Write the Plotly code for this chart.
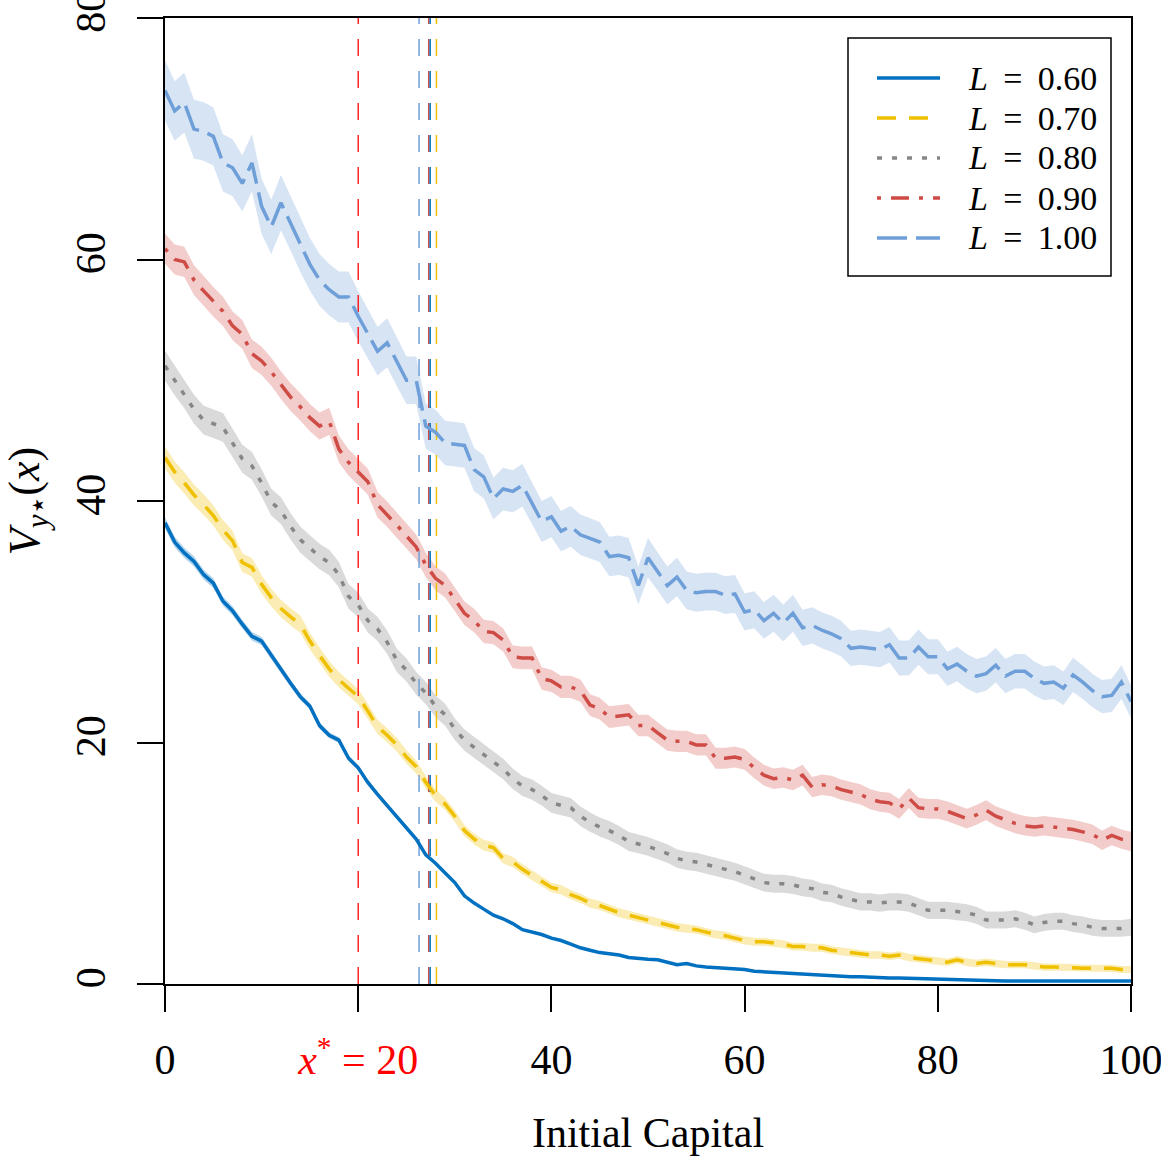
import plotly.graph_objects as go

# ---------------- data ----------------
x_capital = list(range(101))

L_labels = ["0.60", "0.70", "0.80", "0.90", "1.00"]

v_060 = [38.2, 36.6, 35.7, 35.0, 33.9, 33.2, 31.7, 30.9, 29.8, 28.8,
         28.4, 27.2, 26.0, 24.9, 23.8, 23.0, 21.4, 20.6, 20.2, 18.7,
         17.9, 16.7, 15.7, 14.8, 13.8, 12.9, 12.0, 10.7, 10.0, 9.2,
         8.4, 7.3, 6.7, 6.2, 5.7, 5.4, 5.0, 4.5, 4.3, 4.1,
         3.8, 3.6, 3.3, 3.0, 2.8, 2.6, 2.5, 2.4, 2.2, 2.1,
         2.05, 2.0, 1.8, 1.6, 1.7, 1.5, 1.4, 1.35, 1.25, 1.2,
         1.2, 1.05, 1.0, 0.95, 0.9, 0.9, 0.8, 0.75, 0.7, 0.65,
         0.65, 0.6, 0.6, 0.55, 0.55, 0.5, 0.5, 0.47, 0.45, 0.44,
         0.4, 0.37, 0.33, 0.32, 0.3, 0.28, 0.27, 0.25, 0.25, 0.23,
         0.22, 0.21, 0.2, 0.2, 0.19, 0.19, 0.2, 0.2, 0.22, 0.24, 0.25]

v_070 = [43.6, 42.4, 41.5, 40.5, 39.7, 38.8, 37.6, 36.7, 34.9, 34.5,
         33.1, 32.0, 31.1, 30.4, 29.8, 28.4, 27.2, 26.1, 25.2, 24.5,
         23.8, 22.6, 21.3, 20.6, 19.8, 18.8, 18.0, 16.7, 15.6, 14.9,
         13.9, 12.7, 12.0, 11.5, 11.3, 10.4, 10.1, 9.5, 9.0, 8.5,
         8.0, 7.8, 7.4, 7.1, 6.7, 6.5, 6.2, 5.9, 5.7, 5.5,
         5.3, 5.1, 4.9, 4.7, 4.6, 4.5, 4.3, 4.1, 4.0, 3.8,
         3.6, 3.5, 3.5, 3.4, 3.3, 3.1, 3.1, 3.0, 3.0, 2.8,
         2.7, 2.6, 2.5, 2.4, 2.4, 2.3, 2.4, 2.2, 2.1, 2.0,
         1.9, 1.8, 2.0, 1.8, 1.7, 1.8, 1.7, 1.6, 1.6, 1.6,
         1.5, 1.4, 1.4, 1.4, 1.35, 1.3, 1.3, 1.3, 1.3, 1.2, 1.2]

v_080 = [51.2, 50.0, 48.9, 47.6, 46.7, 46.4, 46.1, 44.8, 43.5, 42.9,
         41.5, 39.9, 39.2, 37.9, 36.8, 36.1, 35.4, 34.9, 33.9, 32.1,
         31.4, 30.1, 29.4, 28.3, 26.8, 26.0, 24.9, 24.1, 23.0, 22.3,
         21.1, 20.2, 19.6, 19.0, 18.4, 17.8, 17.0, 16.4, 16.1, 15.6,
         15.0, 14.8, 14.6, 13.9, 13.4, 13.0, 12.7, 12.3, 11.8, 11.6,
         11.4, 11.1, 10.8, 10.4, 10.2, 10.1, 9.9, 9.7, 9.5, 9.3,
         9.0, 8.7, 8.4, 8.3, 8.3, 8.2, 8.0, 7.9, 7.6, 7.5,
         7.2, 7.0, 6.8, 6.8, 6.7, 6.8, 6.8, 6.7, 6.4, 6.1,
         6.1, 6.1, 6.0, 5.9, 5.7, 5.3, 5.3, 5.3, 5.4, 5.2,
         4.9, 5.1, 5.2, 5.2, 5.0, 4.9, 4.7, 4.6, 4.6, 4.6, 4.7]

v_090 = [60.9, 60.0, 59.8, 58.3, 57.4, 56.5, 55.7, 54.5, 53.8, 52.2,
         51.6, 50.7, 49.6, 48.6, 47.8, 46.9, 46.2, 46.6, 44.3, 43.2,
         42.4, 41.6, 39.7, 38.9, 38.0, 37.1, 36.2, 34.7, 33.6, 33.0,
         31.9, 30.7, 30.1, 29.2, 29.1, 28.5, 27.1, 27.0, 27.0, 25.3,
         25.1, 24.6, 24.6, 24.3, 23.1, 22.8, 22.1, 22.2, 22.3, 21.4,
         21.4, 20.8, 20.2, 20.1, 20.1, 19.8, 19.8, 18.7, 18.7, 18.8,
         18.6, 17.9, 17.3, 17.0, 17.1, 16.9, 17.3, 16.3, 16.5, 16.4,
         16.1, 15.9, 15.7, 15.3, 15.1, 15.0, 14.5, 15.4, 14.6, 14.5,
         14.5, 14.3, 14.0, 13.7, 14.0, 14.4, 13.9, 13.6, 13.3, 13.1,
         13.0, 13.1, 13.0, 12.9, 12.8, 12.6, 12.4, 11.9, 12.3, 12.0, 11.8]

v_100 = [74.0, 72.3, 73.0, 70.8, 70.6, 70.2, 68.0, 67.6, 66.3, 68.0,
         64.4, 62.7, 64.7, 63.0, 61.2, 59.6, 58.3, 57.5, 56.9, 56.9,
         55.3, 53.8, 52.4, 53.1, 51.5, 50.0, 50.0, 46.2, 45.7, 44.8,
         44.7, 44.6, 42.6, 42.0, 40.2, 41.0, 40.8, 41.3, 39.8, 38.3,
         38.7, 37.5, 37.9, 37.2, 36.9, 36.6, 35.4, 35.5, 35.3, 33.0,
         35.3, 34.2, 33.0, 33.7, 32.6, 32.4, 32.5, 32.5, 32.2, 32.3,
         30.8, 31.0, 30.1, 30.7, 29.9, 30.7, 29.5, 29.7, 29.3, 29.0,
         28.6, 27.8, 27.9, 27.8, 27.7, 28.1, 27.0, 27.0, 27.9, 27.1,
         27.1, 26.1, 26.5, 25.9, 25.5, 25.7, 26.4, 25.5, 25.9, 25.9,
         25.3, 24.9, 25.0, 24.5, 25.6, 25.0, 24.3, 23.8, 23.9, 25.0, 23.4]

# confidence band half-width = a + b * value
band_a = [0.0, 0.28, 0.64, 0.69, 0.84]
band_b = [0.012, 0.0144, 0.0119, 0.0093, 0.0224]

# vertical markers
x_star = 20
crossover_x = [26.3, 27.3, 27.45, 28.1]
crossover_series = [4, 3, 0, 1]   # index into series lists

x_tickvals = [0, 20, 40, 60, 80, 100]
x_ticktext = ["0", '<span style="color:#FF0000"><i>x</i><sup>*</sup> = 20</span>',
              "40", "60", "80", "100"]
y_tickvals = [0, 20, 40, 60, 80]

# ---------------- styles ----------------
series = [v_060, v_070, v_080, v_090, v_100]
colors = ["#0070C0", "#EFC000", "#868686", "#CF4B45", "#6F9FD8"]
band_colors = ["rgba(0,112,192,0.30)", "rgba(239,192,0,0.30)", "rgba(134,134,134,0.30)",
               "rgba(207,75,69,0.28)", "rgba(111,159,216,0.28)"]
dashes = ["solid", "19px,13px", "5px,10px", "4px,10px,18px,10px", "30px,9px"]
FONT = "Liberation Serif"
LW = 3.5

# plot-area geometry (pixels) used to place the hand-drawn legend
W, H = 1161, 1157
ML, MR, MT, MB = 165, 30, 18, 173
PW, PH = W - ML - MR, H - MT - MB


def px(xp):
    return (xp - ML) / PW


def py(yp):
    return (H - MB - yp) / PH


fig = go.Figure()

# bands
for i, v in enumerate(series):
    up = [y + band_a[i] + band_b[i] * y for y in v]
    lo = [y - band_a[i] - band_b[i] * y for y in v]
    fig.add_trace(go.Scatter(
        x=x_capital + x_capital[::-1], y=up + lo[::-1],
        fill="toself", fillcolor=band_colors[i], line=dict(width=0),
        mode="lines", showlegend=False, hoverinfo="skip"))

# vertical dashed lines
fig.add_trace(go.Scatter(x=[x_star, x_star], y=[0, 80], mode="lines",
                         line=dict(color="#FF0000", width=1.3, dash="17px,15px"),
                         showlegend=False, hoverinfo="skip"))
for xc, si in zip(crossover_x, crossover_series):
    fig.add_trace(go.Scatter(x=[xc, xc], y=[0, 80], mode="lines",
                             line=dict(color=colors[si], width=1.5, dash="17px,15px"),
                             showlegend=False, hoverinfo="skip"))

# main lines
for i, v in enumerate(series):
    fig.add_trace(go.Scatter(
        x=x_capital, y=v, mode="lines",
        line=dict(color=colors[i], width=LW, dash=dashes[i]),
        name="L = " + L_labels[i], showlegend=False))

# hand-drawn legend (box, samples, labels)
shapes = [dict(type="rect", xref="paper", yref="paper",
               x0=px(848), x1=px(1111), y0=py(276), y1=py(38),
               line=dict(color="black", width=1.5), fillcolor="white", layer="above")]
annotations = []
for i in range(5):
    yrow = 78 + 40 * i
    shapes.append(dict(type="line", xref="paper", yref="paper",
                       x0=px(877), x1=px(940), y0=py(yrow), y1=py(yrow),
                       line=dict(color=colors[i], width=LW, dash=dashes[i]), layer="above"))
    annotations.append(dict(xref="paper", yref="paper", x=px(966), y=py(yrow),
                            xanchor="left", yanchor="middle", showarrow=False,
                            text="<i>L</i>\u2009 = \u2009" + L_labels[i],
                            font=dict(size=34, family=FONT, color="black")))

fig.update_layout(
    width=W, height=H,
    margin=dict(l=ML, r=MR, t=MT, b=MB, autoexpand=False),
    paper_bgcolor="white", plot_bgcolor="white",
    font=dict(family=FONT, color="black", size=42),
    showlegend=False,
    shapes=shapes, annotations=annotations,
    xaxis=dict(range=[0, 100], tickvals=x_tickvals, ticktext=x_ticktext,
               ticks="outside", ticklen=26, tickwidth=1.5, tickcolor="black",
               showline=True, linewidth=2, linecolor="black", mirror=True,
               showgrid=False, zeroline=False, ticklabelstandoff=12,
               ticklabeloverflow="allow", automargin=False,
               tickfont=dict(size=42, family=FONT),
               title=dict(text="Initial Capital", font=dict(size=42, family=FONT), standoff=35)),
    yaxis=dict(range=[0, 80], tickvals=y_tickvals, tickangle=-90,
               ticks="outside", ticklen=26, tickwidth=1.5, tickcolor="black",
               showline=True, linewidth=2, linecolor="black", mirror=True,
               showgrid=False, zeroline=False, ticklabelstandoff=15,
               ticklabeloverflow="allow", automargin=False,
               tickfont=dict(size=42, family=FONT),
               title=dict(text="<i>V</i><sub><i>y</i>⋆</sub>(<i>x</i>)",
                          font=dict(size=44, family=FONT), standoff=22)),
)

fig.write_html("out.html")
